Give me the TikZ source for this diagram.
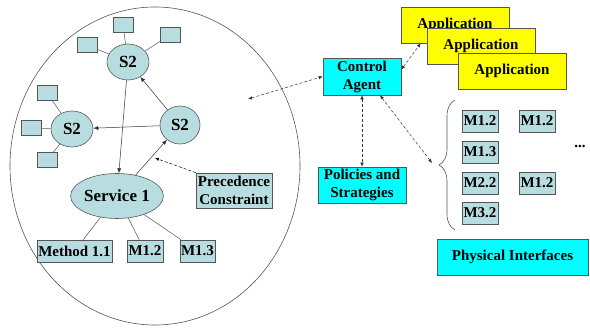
\documentclass[tikz,border=0pt]{standalone}
\usepackage{fontspec}
\setmainfont{Liberation Serif}
\usetikzlibrary{shapes.geometric,arrows.meta,decorations.pathreplacing}
\definecolor{svcblue}{HTML}{B7DDE0}
\definecolor{agentcyan}{HTML}{00FFFF}
\definecolor{appyellow}{HTML}{FFFF00}
\definecolor{edgegray}{HTML}{555555}

\begin{document}
\begin{tikzpicture}[x=1pt,y=-1pt,
  txt/.style={font=\fontsize{15}{18}\selectfont\bfseries, inner sep=0pt, align=center},
  svc/.style={txt, font=\fontsize{17}{20}\selectfont\bfseries, ellipse, draw=edgegray, fill=svcblue, line width=0.6pt},
  mbox/.style={txt, rectangle, draw=edgegray, fill=svcblue, line width=0.6pt,
               minimum width=36pt, minimum height=22pt},
  sq/.style={rectangle, draw=edgegray, fill=svcblue, line width=0.6pt,
             minimum width=20pt, minimum height=15pt, inner sep=0pt},
  cbox/.style={txt, rectangle, draw=edgegray, fill=agentcyan, line width=0.6pt},
  abox/.style={txt, rectangle, draw=edgegray, fill=appyellow, line width=0.6pt,
               minimum width=108pt, minimum height=36pt},
  link/.style={draw=edgegray, line width=0.5pt},
  flow/.style={draw=black!80, line width=0.5pt, -{Latex[length=5pt,width=4pt]}},
  talk/.style={draw=black!80, line width=0.5pt, densely dashed,
               {Latex[length=4pt,width=3.5pt]}-{Latex[length=4pt,width=3.5pt]}}
]
  \useasboundingbox (0,0) rectangle (590,331);

  % Service domain
  \draw[edgegray, line width=0.6pt] (155,166) ellipse (145 and 159);

  % Services
  \node (s2top)   at (128,62)  [svc, minimum width=42pt, minimum height=36pt] {S2};
  \node (s2left)  at (72,129)  [svc, minimum width=42pt, minimum height=36pt] {S2};
  \node (s2right) at (180,125) [svc, minimum width=40pt, minimum height=38pt] {S2};
  \node (svc1)    at (117,196) [svc, minimum width=70pt, minimum height=45pt] {Service 1};

  % Small squares round the S2 nodes
  \node (qa) at (123,25)  [sq] {};
  \node (qb) at (87,45)   [sq] {};
  \node (qc) at (170,35)  [sq] {};
  \node (qd) at (47,93)   [sq] {};
  \node (qe) at (31,128)  [sq] {};
  \node (qf) at (47,160)  [sq] {};
  \foreach \q in {qa,qb,qc}
    \draw[link] (s2top) -- (\q);
  \foreach \q in {qd,qe,qf}
    \draw[link] (s2left) -- (\q);

  % Methods
  \node (meth11) at (74.5,251) [mbox, minimum width=75pt] {Method 1.1};
  \node (meth12) at (145,251)  [mbox] {M1.2};
  \node (meth13) at (197.5,251) [mbox, minimum width=35pt] {M1.3};
  \foreach \m in {meth11,meth12,meth13}
    \draw[link] (svc1) -- (\m);

  % Precedence
  \draw[flow] (s2top) -- (svc1);
  \draw[flow] (s2right) -- (s2top);
  \draw[flow] (s2right) -- (s2left);
  \draw[flow] (svc1) -- (s2right);
  \node (prec) at (234,190.5) [cbox, fill=svcblue, minimum width=76pt, minimum height=35pt] {Precedence\\Constraint};
  \coordinate (pmid) at (155,158);
  \draw[densely dashed, line width=0.5pt, -{Latex[length=4pt,width=3.5pt]}] (prec.155) -- (pmid);

  % Applications
  \node (app1) at (455,25) [abox] {Application};
  \node (app2) at (481,46) [abox] {Application};
  \node (app3) at (512,71) [abox] {Application};

  % Agent and policies
  \node (agent)  at (362,76.5) [cbox, minimum width=78pt, minimum height=37pt] {Control\\Agent};
  \node (policy) at (362,185)  [cbox, minimum width=88pt, minimum height=36pt] {Policies and\\Strategies};
  \node (phys)   at (512.5,257) [cbox, minimum width=151pt, minimum height=36pt] {Physical Interfaces};

  % Method pool
  \node (pa) at (480,121) [mbox] {M1.2};
  \node (pb) at (537,121) [mbox] {M1.2};
  \node (pc) at (480,152) [mbox] {M1.3};
  \node (pd) at (480,183) [mbox] {M2.2};
  \node (pe) at (537,183) [mbox] {M1.2};
  \node (pf) at (480,213) [mbox] {M3.2};
  \node (more) at (580,146) [txt] {...};
  \draw[edgegray, line width=0.6pt, decorate, decoration={brace, amplitude=16pt}]
    (455,230) -- (455,100);
  \coordinate (tip) at (432,163);

  % Agent links
  \coordinate (inner) at (248,99);
  \draw[talk] (inner) -- (agent.west);
  \draw[talk] (agent.10) -- ([xshift=20pt]app1.south west);
  \draw[talk] (agent.south) -- (policy.north);
  \draw[talk] ([xshift=18pt]agent.south) -- (tip);
\end{tikzpicture}
\end{document}
